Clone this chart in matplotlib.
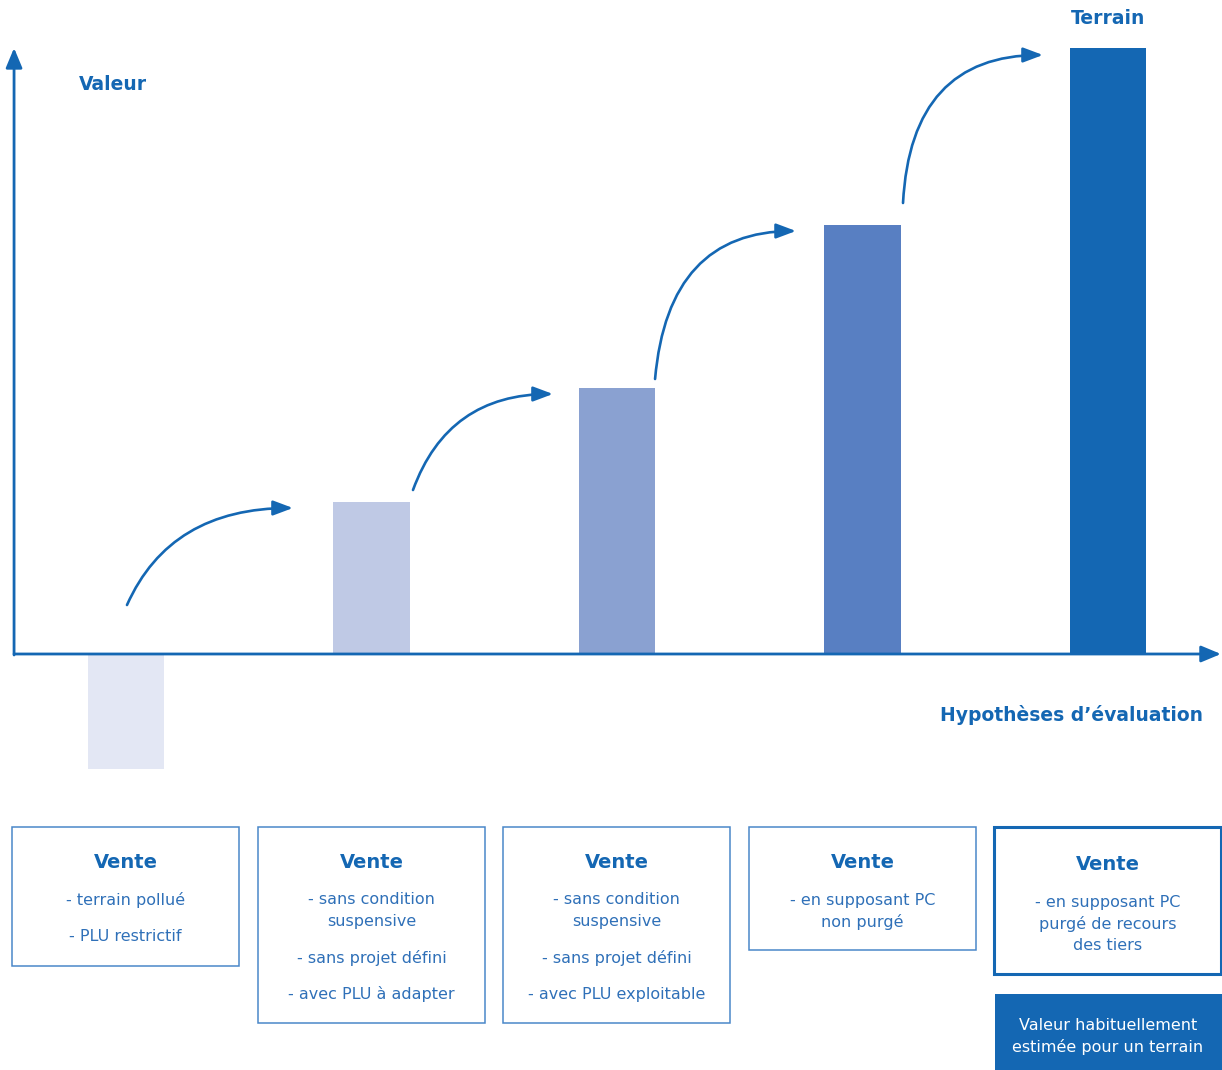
import numpy as np
import matplotlib.pyplot as plt
from matplotlib.patches import Rectangle

plt.rcParams['font.family'] = ['DejaVu Sans']

# chart data (arbitrary value units)
categories = ['pollue', 'sans projet', 'PLU exploitable', 'PC non purge', 'PC purge']
values = [-115, 152, 266, 429, 606]
bar_colors = ['#e3e7f4', '#bfc9e5', '#8aa1d1', '#587fc2', '#1467b3']

box_titles = ['Vente', 'Vente', 'Vente', 'Vente', 'Vente']
box_items = [
    ['- terrain pollué', '- PLU restrictif'],
    ['- sans condition\nsuspensive', '- sans projet défini', '- avec PLU à adapter'],
    ['- sans condition\nsuspensive', '- sans projet défini', '- avec PLU exploitable'],
    ['- en supposant PC\nnon purgé'],
    ['- en supposant PC\npurgé de recours\ndes tiers'],
]
note_text = ['Valeur habituellement', 'estimée pour un terrain']

BLUE = '#1467b3'
TXT = '#2f70b8'
W, H = 1222, 1070

fig = plt.figure(figsize=(W / 100, H / 100), dpi=100)
ax = fig.add_axes([0, 0, 1, 1])
ax.set_xlim(-126 / 245.5, (W - 126) / 245.5)
ax.set_ylim(654 - H, 654)
ax.axis('off')

x = np.arange(len(values))
ax.bar(x, values, width=0.31, color=bar_colors, zorder=1)

# axes arrows
ax.annotate('', xy=(-0.456, 606), xytext=(-0.456, -1),
            arrowprops=dict(arrowstyle='-|>,head_length=12,head_width=5', mutation_scale=1,
                            color=BLUE, lw=2, shrinkA=0, shrinkB=0), zorder=3)
ax.annotate('', xy=(4.46, 0), xytext=(-0.456, 0),
            arrowprops=dict(arrowstyle='-|>,head_length=12,head_width=5', mutation_scale=1,
                            color=BLUE, lw=2, shrinkA=0, shrinkB=0), zorder=3)

# curved arrows between bars
arrow_starts = [(0.004, 49), (1.169, 164), (2.155, 275), (3.165, 451)]
arrow_ends = [(0.68, 146), (1.739, 260), (2.729, 423), (3.735, 599)]
arrow_angles = [66, 70, 85, 87]
for s, e, a in zip(arrow_starts, arrow_ends, arrow_angles):
    ax.annotate('', xy=e, xytext=s,
                arrowprops=dict(arrowstyle='-|>,head_length=12,head_width=4.5', mutation_scale=1,
                                color=BLUE, lw=1.9, shrinkA=0, shrinkB=0,
                                connectionstyle='angle3,angleA=%d,angleB=0' % a), zorder=3)

def fx(px):
    return px / W

def fy(py):
    return 1 - py / H

# labels
fig.text(fx(113), fy(84), 'Valeur', color=BLUE, fontsize=13.5, fontweight='bold', ha='center', va='center')
fig.text(fx(1108), fy(19), 'Terrain', color=BLUE, fontsize=13.5, fontweight='bold', ha='center', va='center')
fig.text(fx(1072), fy(715), 'Hypothèses d’évaluation', color=BLUE, fontsize=13.5, fontweight='bold',
         ha='center', va='center')

# boxes
box_left = [12, 258, 503, 749, 994]
box_height = [139, 196, 196, 123, 147]
box_w = 227
for i in range(5):
    left = box_left[i]
    top = 827
    cx = left + box_w / 2
    if i == 4:
        ec, lw, off = BLUE, 2.2, 2
    else:
        ec, lw, off = '#4a87c9', 1.1, 0
    fig.patches.append(Rectangle((fx(left), fy(top + box_height[i])), box_w / W, box_height[i] / H,
                                 transform=fig.transFigure, fill=False, ec=ec, lw=lw))
    fig.text(fx(cx), fy(863 + off), box_titles[i], color=BLUE, fontsize=14, fontweight='bold',
             ha='center', va='center')
    yy = 900 + off
    for item in box_items[i]:
        lines = item.split('\n')
        for j, ln in enumerate(lines):
            fig.text(fx(cx), fy(yy), ln, color=TXT, fontsize=11.5, ha='center', va='center')
            if j < len(lines) - 1:
                yy += 21.5
        yy += 36.5

# filled note box
fig.patches.append(Rectangle((fx(995), fy(1070)), 227 / W, 76 / H, transform=fig.transFigure,
                             fc=BLUE, ec='none'))
for k, ln in enumerate(note_text):
    fig.text(fx(1108), fy(1026 + 21 * k), ln, color='white', fontsize=11.5, ha='center', va='center')

fig.savefig('out.png', dpi=100)
